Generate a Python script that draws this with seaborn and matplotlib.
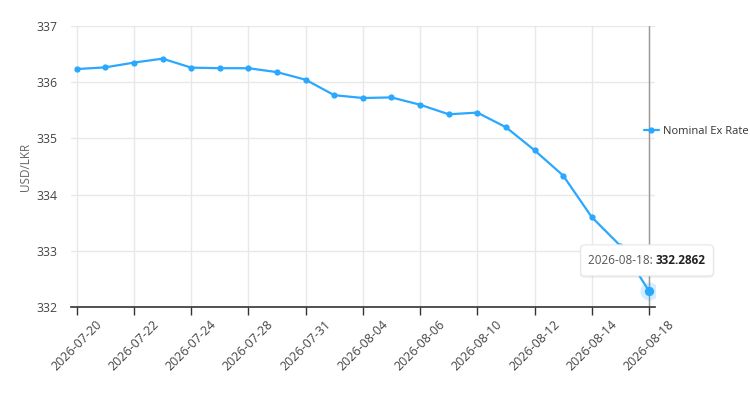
import pandas as pd
import matplotlib.pyplot as plt
import seaborn as sns
from matplotlib.patches import FancyBboxPatch
from matplotlib.transforms import Bbox, IdentityTransform

# data
dates = ['2026-07-20', '2026-07-21', '2026-07-22', '2026-07-23', '2026-07-24',
         '2026-07-27', '2026-07-28', '2026-07-29', '2026-07-31', '2026-08-03',
         '2026-08-04', '2026-08-05', '2026-08-06', '2026-08-07', '2026-08-10',
         '2026-08-11', '2026-08-12', '2026-08-13', '2026-08-14', '2026-08-17',
         '2026-08-18']
rates = [336.235, 336.265, 336.35, 336.42, 336.26, 336.25, 336.25, 336.18,
         336.045, 335.77, 335.72, 335.73, 335.60, 335.43, 335.46, 335.20,
         334.79, 334.34, 333.60, 333.09, 332.2862]
series_name = 'Nominal Ex Rate'
y_label = 'USD/LKR'
y_ticks = [332, 333, 334, 335, 336, 337]

df = pd.DataFrame({'date': dates, 'rate': rates})
blue = '#2aa8ff'

sns.set_theme(style='white')
plt.rcParams['font.family'] = ['Open Sans', 'DejaVu Sans']

fig = plt.figure(figsize=(7.5, 4.04), dpi=100)
ax = fig.add_axes([0.0947, 0.240, 0.779, 0.6955])

sns.lineplot(data=df, x='date', y='rate', ax=ax, color=blue, linewidth=1.6,
             marker='o', markersize=4.5, markeredgewidth=0, label=series_name)

# highlighted (hovered) last point
last = len(dates) - 1
ax.scatter([dates[last]], [rates[last]], s=170, color=blue, alpha=0.2, zorder=4, linewidths=0)
ax.scatter([dates[last]], [rates[last]], s=45, color=blue, zorder=5, linewidths=0)

ax.set_xlim(-0.2, last + 0.22)
ax.set_ylim(332, 337)
ax.set_yticks(y_ticks)
tick_pos = list(range(0, len(dates), 2))
ax.set_xticks(tick_pos)
ax.set_xticklabels([dates[i] for i in tick_pos], rotation=45, ha='center',
                   fontsize=9, color='#444444')
ax.tick_params(axis='y', labelsize=8.8, labelcolor='#444444', length=0, pad=10)
ax.tick_params(axis='x', length=6, width=1, color='#333333', direction='out', pad=2, bottom=True)

ax.grid(True, color='#e8e8e8', linewidth=1)
for s in ['left', 'right', 'top']:
    ax.spines[s].set_visible(False)
ax.spines['bottom'].set_color('#333333')
ax.spines['bottom'].set_linewidth(1.2)

# crosshair at hovered point
ax.axvline(last, color='#999999', linewidth=1, zorder=1)

ax.set_xlabel('')
ax.set_ylabel(y_label, fontsize=8.5, color='#666666', labelpad=3)

leg = ax.legend(loc='center left', bbox_to_anchor=(0.980, 0.626), frameon=False,
                fontsize=8.0, handlelength=1.35, handletextpad=0.4,
                borderpad=0, borderaxespad=0)
for t in leg.get_texts():
    t.set_color('#333333')

# tooltip
t1 = ax.annotate('2026-08-18: ', xy=(last, rates[last]), xytext=(5, 22),
                 textcoords='offset points', ha='right', va='center', fontsize=8.5,
                 color='#555555', annotation_clip=False, zorder=8)
t2 = ax.annotate('332.2862', xy=(last, rates[last]), xytext=(5, 22),
                 textcoords='offset points', ha='left', va='center', fontsize=8.5,
                 fontweight='bold', color='#222222', annotation_clip=False, zorder=8)

fig.canvas.draw()
r = fig.canvas.get_renderer()
bb = Bbox.union([t1.get_window_extent(r), t2.get_window_extent(r)])
px, py = 7.5, 9
shadow = FancyBboxPatch((bb.x0 - px - 1, bb.y0 - py - 2), bb.width + 2 * px + 2, bb.height + 2 * py + 2,
                        boxstyle='round,pad=0,rounding_size=5', transform=IdentityTransform(),
                        fc='#000000', ec='none', alpha=0.06, clip_on=False, zorder=6)
box = FancyBboxPatch((bb.x0 - px, bb.y0 - py), bb.width + 2 * px, bb.height + 2 * py,
                     boxstyle='round,pad=0,rounding_size=4', transform=IdentityTransform(),
                     fc='white', ec='#e6e6e6', lw=0.8, clip_on=False, zorder=7)
ax.add_artist(shadow)
ax.add_artist(box)

fig.savefig('out.png', dpi=100)
